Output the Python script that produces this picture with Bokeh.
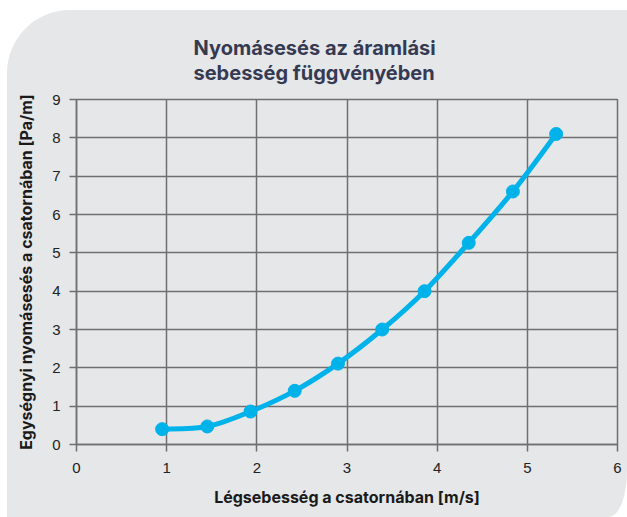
import numpy as np
from bokeh.plotting import figure
from bokeh.models import FixedTicker, Range1d, Title, ColumnDataSource
from bokeh.embed import file_html
from bokeh.resources import INLINE

# ---- data ----
velocity = [0.95, 1.45, 1.93, 2.42, 2.90, 3.39, 3.86, 4.35, 4.84, 5.32]
pressure_drop = [0.40, 0.47, 0.86, 1.40, 2.11, 3.00, 4.00, 5.26, 6.60, 8.10]
x_ticks = [0, 1, 2, 3, 4, 5, 6]
y_ticks = [0, 1, 2, 3, 4, 5, 6, 7, 8, 9]
title_lines = ["Nyomásesés az áramlási", "sebesség függvényében"]
x_label = "Légsebesség a csatornában [m/s]"
y_label = "Egységnyi nyomásesés a csatornában [Pa/m]"

CARD = "#e6e7e9"
GRID = "#6f6f6f"
LINE = "#00b2ea"
TITLE = "#353a52"

p = figure(width=620, height=507, output_backend="svg", toolbar_location=None,
           x_range=Range1d(0, 6), y_range=Range1d(0, 9),
           min_border_left=69, min_border_right=10, min_border_top=89, min_border_bottom=73)
p.border_fill_color = None
p.background_fill_color = CARD
p.outline_line_color = GRID
p.outline_line_width = 1.5
p.styles = {"background-color": CARD,
            "border-radius": "63px 0 18px 0 / 63px 0 46px 0",
            "margin-left": "7px", "margin-top": "10px"}

for ax, ticks in ((p.xaxis[0], x_ticks), (p.yaxis[0], y_ticks)):
    ax.ticker = FixedTicker(ticks=ticks)
    ax.axis_line_color = GRID
    ax.axis_line_width = 1.5
    ax.major_tick_line_color = GRID
    ax.major_tick_line_width = 1.5
    ax.major_tick_out = 7
    ax.major_tick_in = 0
    ax.minor_tick_line_color = None
    ax.major_label_text_font = "Liberation Sans"
    ax.major_label_text_font_size = "15px"
    ax.major_label_text_color = "#222222"
    ax.axis_label_text_font = "Inter"
    ax.axis_label_text_font_style = "bold"
    ax.axis_label_text_font_size = "16px"
    ax.axis_label_text_color = "#1a1a1a"

p.xaxis.axis_label = x_label
p.yaxis.axis_label = y_label
p.xaxis.major_label_standoff = 11
p.xaxis.axis_label_standoff = 11
p.yaxis.major_label_standoff = 9
p.yaxis.axis_label_standoff = 13

for g in (p.xgrid[0], p.ygrid[0]):
    g.grid_line_color = GRID
    g.grid_line_width = 1.5
p.xgrid.ticker = FixedTicker(ticks=x_ticks)
p.ygrid.ticker = FixedTicker(ticks=y_ticks)

# smooth curve through the points (Catmull-Rom -> cubic Bezier)
x = np.array(velocity)
y = np.array(pressure_drop)
xp = np.concatenate([[x[0]], x, [x[-1]]])
yp = np.concatenate([[y[0]], y, [y[-1]]])
n = len(x)
seg = dict(x0=[], y0=[], x1=[], y1=[], cx0=[], cy0=[], cx1=[], cy1=[])
for i in range(n - 1):
    p0x, p1x, p2x, p3x = xp[i], xp[i + 1], xp[i + 2], xp[i + 3]
    p0y, p1y, p2y, p3y = yp[i], yp[i + 1], yp[i + 2], yp[i + 3]
    seg["x0"].append(p1x); seg["y0"].append(p1y)
    seg["x1"].append(p2x); seg["y1"].append(p2y)
    seg["cx0"].append(p1x + (p2x - p0x) / 6); seg["cy0"].append(p1y + (p2y - p0y) / 6)
    seg["cx1"].append(p2x - (p3x - p1x) / 6); seg["cy1"].append(p2y - (p3y - p1y) / 6)
p.bezier(x0="x0", y0="y0", x1="x1", y1="y1", cx0="cx0", cy0="cy0", cx1="cx1", cy1="cy1",
         source=ColumnDataSource(seg), line_color=LINE, line_width=5, line_cap="round")
p.scatter(velocity, pressure_drop, size=13, fill_color=LINE, line_color=LINE)

p.add_layout(Title(text="\n".join(title_lines), align="left", offset=117, standoff=28,
                   text_font="Inter", text_font_style="bold", text_font_size="20px",
                   text_color=TITLE, text_line_height=1.05), "above")

open("out.html", "w").write(file_html(p, INLINE))
